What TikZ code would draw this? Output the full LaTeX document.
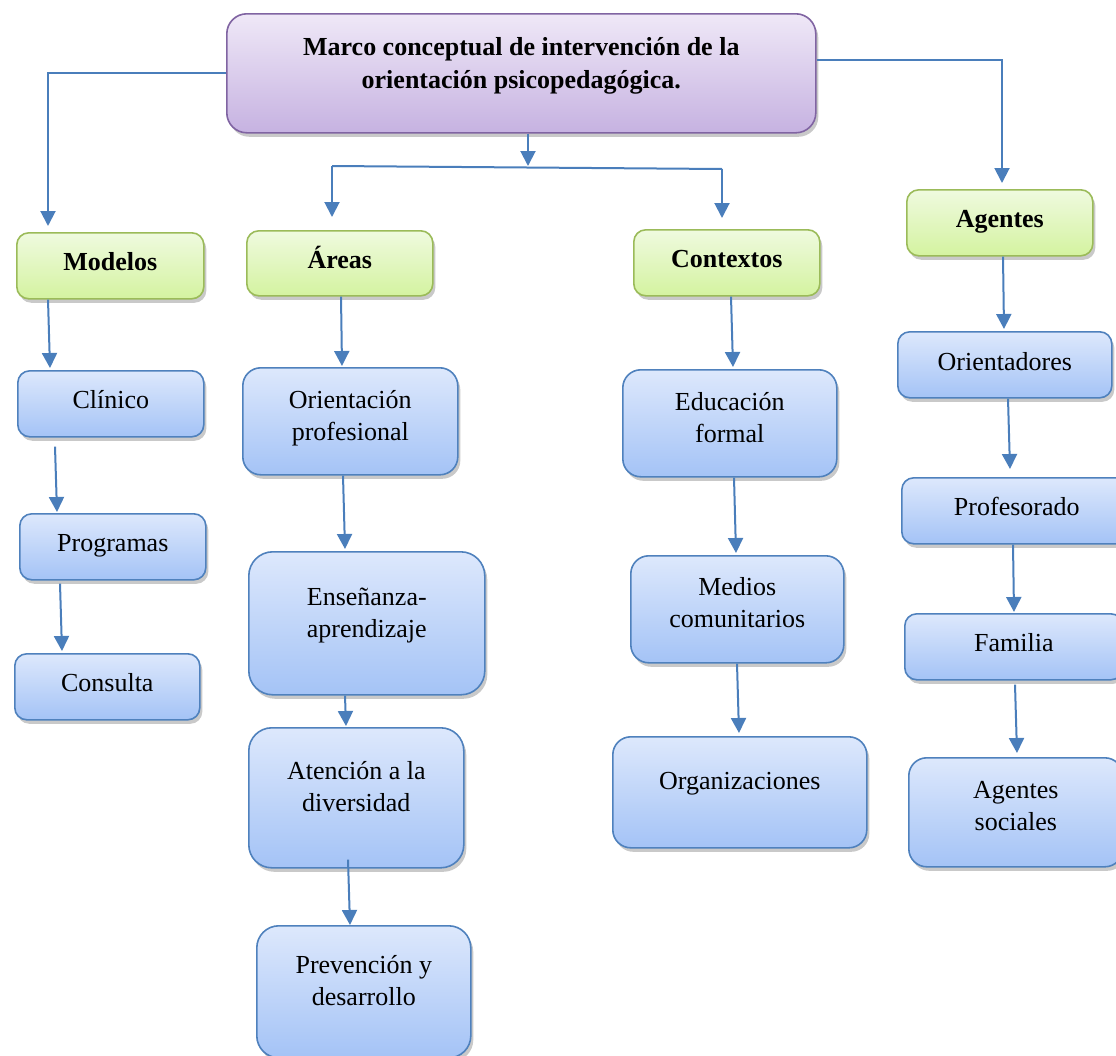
\documentclass[tikz,border=0pt]{standalone}
\usepackage{fontspec}
\setmainfont{Liberation Serif}
\usetikzlibrary{arrows.meta,shadows}
\definecolor{lnblue}{HTML}{4A7EBB}
\definecolor{bluedge}{HTML}{4F81BD}
\definecolor{blutop}{HTML}{DDE8FC}
\definecolor{blubot}{HTML}{A4C3F6}
\definecolor{grnedge}{HTML}{9BBB59}
\definecolor{grntop}{HTML}{EFFADF}
\definecolor{grnbot}{HTML}{D4F3A0}
\definecolor{prpedge}{HTML}{8064A2}
\definecolor{prptop}{HTML}{EFE8F7}
\definecolor{prpbot}{HTML}{C6B2E1}
\tikzset{
  bx/.style={rectangle,rounded corners=12pt,inner sep=0pt,align=flush center,anchor=north west,
    font=\fontsize{26}{32}\selectfont,line width=1.6pt,
    drop shadow={shadow xshift=2.5pt,shadow yshift=-4pt,opacity=.3,fill=black!70}},
  blu/.style={bx,draw=bluedge,top color=blutop,bottom color=blubot},
  grn/.style={bx,draw=grnedge,top color=grntop,bottom color=grnbot,font=\fontsize{26}{32}\selectfont\bfseries},
  prp/.style={bx,draw=prpedge,top color=prptop,bottom color=prpbot,rounded corners=20pt,font=\fontsize{26}{33}\selectfont\bfseries},
  sz/.style n args={3}{text width=#1pt,text height=#2pt,text depth=#3pt},
  ln/.style={draw=lnblue,line width=2pt},
  arr/.style={ln,-{Triangle[length=15pt,width=15pt]}},
}
\begin{document}
\begin{tikzpicture}[x=1pt,y=-1pt]
\useasboundingbox (0,0) rectangle (1116,1055);
% ---- title
\node[prp,sz={589}{42}{77}] (marco) at (226,13)
  {Marco conceptual de intervención de la\\ orientación psicopedagógica.};
% ---- headings
\node[grn,sz={187}{38}{28}] (modelos) at (16,232) {Modelos};
\node[grn,sz={186}{38}{27}] (areas) at (246,230) {Áreas};
\node[grn,sz={186}{38}{28}] (contextos) at (633,229) {Contextos};
\node[grn,sz={186}{38}{28}] (agentes) at (906,189) {Agentes};
% ---- modelos
\node[blu,sz={186}{38}{28}] (clinico) at (17,370) {Clínico};
\node[blu,sz={186}{38}{28}] (programas) at (19,513) {Programas};
\node[blu,sz={185}{38}{28}] (consulta) at (14,653) {Consulta};
% ---- areas
\node[blu,rounded corners=18pt,sz={215}{41}{66}] (orprof) at (242,367) {Orientación\\ profesional};
\node[blu,rounded corners=24pt,sz={236}{54}{89}] (ensen) at (248,551) {Enseñanza-\\ aprendizaje};
\node[blu,rounded corners=23pt,sz={215}{52}{88}] (atencion) at (248,727) {Atención a la\\ diversidad};
\node[blu,rounded corners=22pt,sz={214}{48}{84}] (prevencion) at (256,925) {Prevención y\\ desarrollo};
% ---- contextos
\node[blu,rounded corners=18pt,sz={214}{41}{66}] (educacion) at (622,369) {Educación\\ formal};
\node[blu,rounded corners=18pt,sz={213}{40}{67}] (medios) at (630,555) {Medios\\ comunitarios};
\node[blu,rounded corners=18pt,sz={254}{53}{58}] (organiz) at (612,736) {Organizaciones};
% ---- agentes
\node[blu,sz={214}{39}{27}] (orientadores) at (897,331) {Orientadores};
\node[blu,sz={230}{38}{28}] (profesorado) at (901,477) {Profesorado};
\node[blu,sz={218}{38}{28}] (familia) at (904,613) {Familia};
\node[blu,rounded corners=18pt,sz={214}{41}{68}] (agsociales) at (908,757) {Agentes\\ sociales};
% ---- links from the title
\coordinate (hm) at (528,166);
\coordinate (hl) at (332,166);
\coordinate (hr) at (722,169);
\draw[arr] (marco.west) -| ([xshift=32pt,yshift=6pt]modelos.north west);
\draw[arr] ([yshift=13pt]marco.east) -| ([xshift=96pt,yshift=6pt]agentes.north west);
\draw[arr] ([xshift=302pt]marco.south west) -- (hm);
\draw[ln] (hl) -- (hr);
\draw[arr] (hl) -- ([xshift=86pt,yshift=13pt]areas.north west);
\draw[arr] (hr) -- ([xshift=89pt,yshift=11pt]contextos.north west);
% ---- columns
\draw[arr] ([xshift=32pt]modelos.south west) -- ([xshift=33pt,yshift=2pt]clinico.north west);
\draw[arr] ([xshift=38pt,yshift=-9pt]clinico.south west) -- ([xshift=38pt,yshift=1pt]programas.north west);
\draw[arr] ([xshift=41pt,yshift=-3pt]programas.south west) -- ([xshift=48pt,yshift=2pt]consulta.north west);
\draw[arr] ([xshift=95pt]areas.south west) -- ([xshift=100pt,yshift=1pt]orprof.north west);
\draw[arr] ([xshift=101pt]orprof.south west) -- ([xshift=97pt,yshift=2pt]ensen.north west);
\draw[arr] ([xshift=97pt]ensen.south west) -- ([xshift=98pt,yshift=1pt]atencion.north west);
\draw[arr] ([xshift=100pt,yshift=9pt]atencion.south west) -- ([xshift=94pt]prevencion.north west);
\draw[arr] ([xshift=98pt]contextos.south west) -- ([xshift=111pt,yshift=2pt]educacion.north west);
\draw[arr] ([xshift=112pt]educacion.south west) -- ([xshift=106pt,yshift=2pt]medios.north west);
\draw[arr] ([xshift=107pt]medios.south west) -- ([xshift=127pt,yshift=3pt]organiz.north west);
\draw[arr] ([xshift=97pt]agentes.south west) -- ([xshift=107pt,yshift=2pt]orientadores.north west);
\draw[arr] ([xshift=111pt]orientadores.south west) -- ([xshift=109pt,yshift=8pt]profesorado.north west);
\draw[arr] ([xshift=112pt]profesorado.south west) -- ([xshift=110pt,yshift=1pt]familia.north west);
\draw[arr] ([xshift=111pt,yshift=-4pt]familia.south west) -- ([xshift=109pt,yshift=4pt]agsociales.north west);
\end{tikzpicture}
\end{document}
